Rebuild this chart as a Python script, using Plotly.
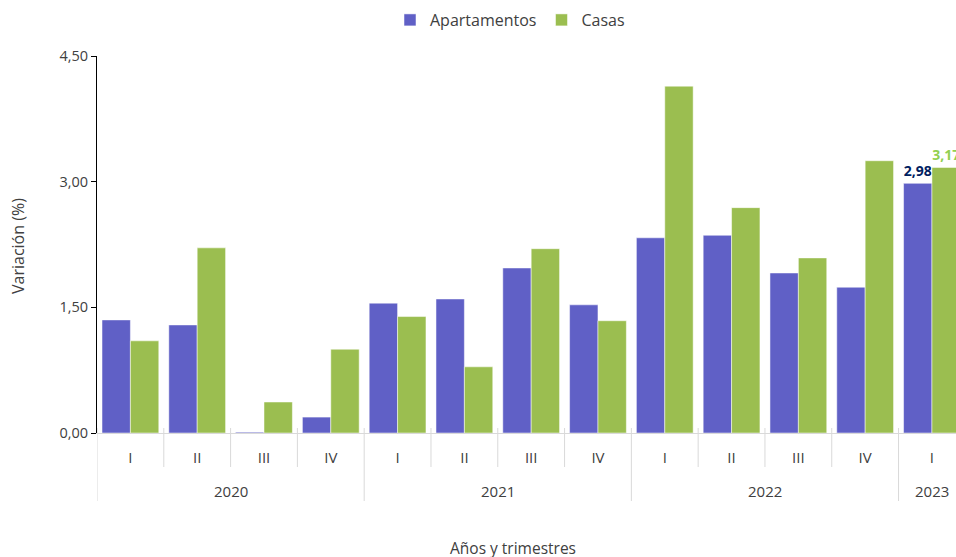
import plotly.graph_objects as go

years = ["2020"] * 4 + ["2021"] * 4 + ["2022"] * 4 + ["2023"]
quarters = ["I", "II", "III", "IV"] * 3 + ["I"]
apartamentos = [1.35, 1.29, 0.01, 0.19, 1.55, 1.60, 1.97, 1.53, 2.33, 2.36, 1.91, 1.74, 2.98]
casas = [1.10, 2.21, 0.37, 1.00, 1.39, 0.79, 2.20, 1.34, 4.14, 2.69, 2.09, 3.25, 3.17]
y_ticks = [0, 1.5, 3.0, 4.5]

cats = [f"{y}-{q}" for y, q in zip(years, quarters)]
idx = list(range(len(cats)))


def last_label(vals):
    return [""] * (len(vals) - 1) + [f"{vals[-1]:.2f}".replace(".", ",")]


FONT = "Open Sans, Noto Sans, sans-serif"
GRAY = "#404040"
LINE = "#d9d9d9"

W, H = 956, 557
ML, MR, MT, MB = 97, 0, 56, 124
PW, PH = W - ML - MR, H - MT - MB


def py(pixel_y):
    """pixel y (from top) -> paper y"""
    return (H - MB - pixel_y) / PH


def px(pixel_x):
    return (pixel_x - ML) / PW


fig = go.Figure()
fig.add_trace(go.Bar(
    name="Apartamentos", x=cats, y=apartamentos,
    marker=dict(color="#6060C6", line=dict(color="white", width=0.5)),
    text=last_label(apartamentos), textposition="outside",
    textfont=dict(color="#002060", size=14, family=FONT, weight="bold"),
    cliponaxis=False, hoverinfo="skip",
))
fig.add_trace(go.Bar(
    name="Casas", x=cats, y=casas,
    marker=dict(color="#9BBE50", line=dict(color="white", width=0.5)),
    text=last_label(casas), textposition="outside",
    textfont=dict(color="#92D050", size=14, family=FONT, weight="bold"),
    cliponaxis=False, hoverinfo="skip",
))

shapes = []
annotations = []
# quarter separators (short) and year dividers (long)
year_starts = [i for i in idx if i == 0 or years[i] != years[i - 1]]
for i in idx:
    b = i - 0.5
    if i in year_starts:
        y1 = py(501)
    else:
        y1 = py(467)
    shapes.append(dict(type="line", xref="x", yref="paper", x0=b, x1=b,
                       y0=py(428), y1=y1, line=dict(color=LINE, width=1)))
# year labels
for k, s in enumerate(year_starts):
    e = year_starts[k + 1] - 1 if k + 1 < len(year_starts) else len(idx) - 1
    annotations.append(dict(text=years[s], x=(s + e) / 2, xref="x",
                            y=py(491), yref="paper", yanchor="middle",
                            showarrow=False, font=dict(size=15, color=GRAY)))

annotations += [
    dict(text="Variación (%)", x=px(18), y=py(246), xref="paper", yref="paper",
         xanchor="center", yanchor="middle", showarrow=False, textangle=-90,
         font=dict(size=16, color=GRAY)),
    dict(text="Años y trimestres", x=px(513), xanchor="center", xref="paper",
         y=py(548), yref="paper", yanchor="middle", showarrow=False,
         font=dict(size=15.5, color=GRAY)),
]

fig.update_layout(
    width=W, height=H,
    margin=dict(l=ML, r=MR, t=MT, b=MB, autoexpand=False),
    paper_bgcolor="white", plot_bgcolor="white",
    separators=",.",
    barmode="group", bargap=0.15, bargroupgap=0,
    font=dict(family=FONT, size=14, color=GRAY),
    showlegend=True,
    legend=dict(orientation="h", x=px(510), xanchor="center", y=py(20), yanchor="middle",
                font=dict(size=16, color=GRAY), traceorder="normal"),
    xaxis=dict(
        type="category", range=[-0.5, 12.36],
        tickvals=cats, ticktext=quarters,
        showline=True, linecolor=LINE, linewidth=1,
        ticks="", ticklabelstandoff=11,
        tickfont=dict(size=15, color=GRAY),
        showgrid=False, zeroline=False,
    ),
    yaxis=dict(
        range=[0, 4.5], tickvals=y_ticks, tickformat=".2f",
        showline=True, linecolor="black", linewidth=1,
        ticks="outside", ticklen=5, tickcolor="black",
        showgrid=False, zeroline=False,
        tickfont=dict(size=14.5, color=GRAY),
    ),
    shapes=shapes,
    annotations=annotations,
)

fig.write_html("out.html",
               config={"displayModeBar": False},
               post_script="document.body.style.margin='0px';document.body.style.overflow='hidden';")
